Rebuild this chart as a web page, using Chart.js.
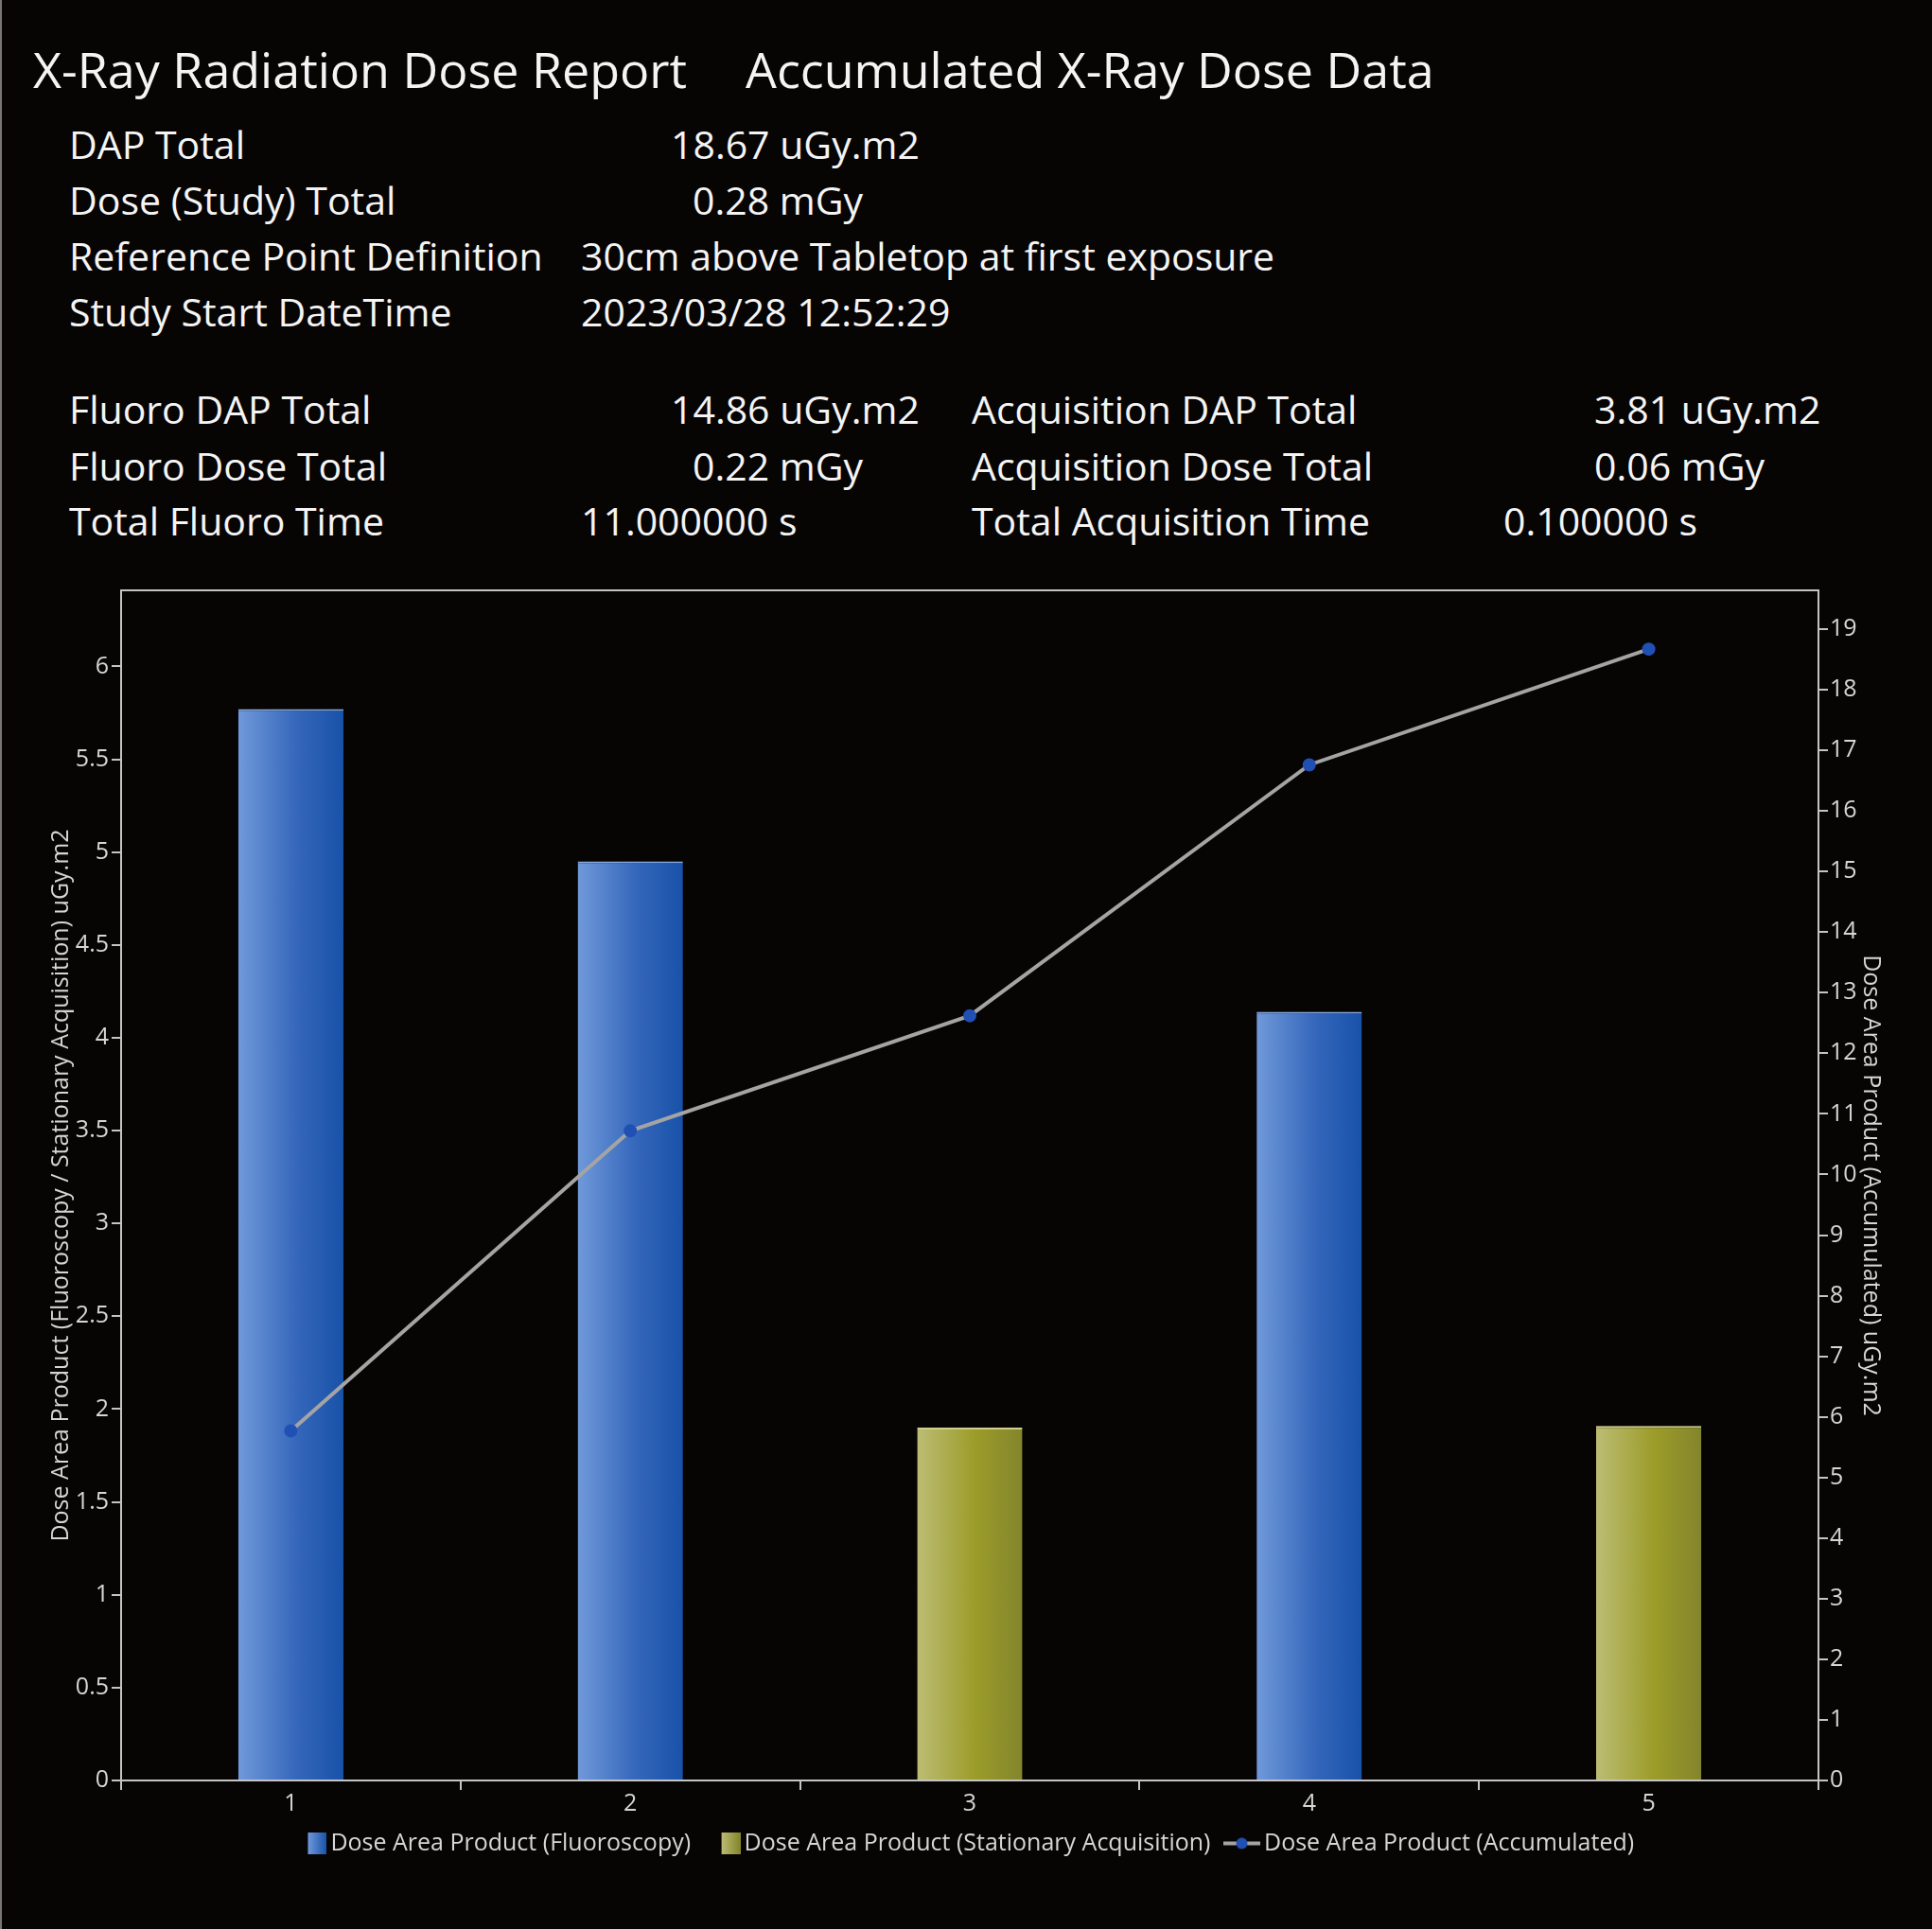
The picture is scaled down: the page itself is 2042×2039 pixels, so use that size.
<!DOCTYPE html>
<html>
<head>
<meta charset="utf-8">
<script src="https://cdn.jsdelivr.net/npm/chart.js@4.4.0/dist/chart.umd.min.js"></script>
<style>
    html, body { margin: 0; padding: 0; background: #070404; width: 2042px; height: 2039px; overflow: hidden; }
    body { box-shadow: inset 2px 0 0 #7a7676; }
    #head { position: absolute; left: 0; top: 0; }
    #wrap { position: absolute; left: 0; top: 600px; }
</style>
</head>
<body>
<svg id="head" width="2042" height="600" font-family="Open Sans" fill="#f4f4f4">
    <text x="35" y="93" font-size="52">X-Ray Radiation Dose Report</text>
    <text x="788" y="93" font-size="52">Accumulated X-Ray Dose Data</text>
    <g font-size="41">
        <text x="73" y="168">DAP Total</text>
        <text x="709" y="168">18.67 uGy.m2</text>
        <text x="73" y="227">Dose (Study) Total</text>
        <text x="732" y="227">0.28 mGy</text>
        <text x="73" y="286">Reference Point Definition</text>
        <text x="614" y="286">30cm above Tabletop at first exposure</text>
        <text x="73" y="345">Study Start DateTime</text>
        <text x="614" y="345">2023/03/28 12:52:29</text>

        <text x="73" y="448">Fluoro DAP Total</text>
        <text x="709" y="448">14.86 uGy.m2</text>
        <text x="1027" y="448">Acquisition DAP Total</text>
        <text x="1685" y="448">3.81 uGy.m2</text>
        <text x="73" y="508">Fluoro Dose Total</text>
        <text x="732" y="508">0.22 mGy</text>
        <text x="1027" y="508">Acquisition Dose Total</text>
        <text x="1685" y="508">0.06 mGy</text>
        <text x="73" y="566">Total Fluoro Time</text>
        <text x="614" y="566">11.000000 s</text>
        <text x="1027" y="566">Total Acquisition Time</text>
        <text x="1589" y="566">0.100000 s</text>
    </g>
</svg>
<div id="wrap"><canvas id="myChart" width="2042" height="1371"></canvas></div>
<script>
// data
const categories = ['1', '2', '3', '4', '5'];
const fluoroDap = [5.77, 4.95, null, 4.14, null];
const acquisitionDap = [null, null, 1.90, null, 1.91];
const accumulatedDap = [5.77, 10.72, 12.62, 16.76, 18.67];
const leftTicks = [0, 0.5, 1, 1.5, 2, 2.5, 3, 3.5, 4, 4.5, 5, 5.5, 6];
const rightTicks = [0, 1, 2, 3, 4, 5, 6, 7, 8, 9, 10, 11, 12, 13, 14, 15, 16, 17, 18, 19];

const FONT = 'Open Sans';
const axisColor = '#c4c4c4';
const labelColor = '#d6d6d6';
const barShare = 0.31;
const blueStops = ['#7099da', '#3567bb', '#1852a8'];
const oliveStops = ['#bcbd74', '#9c9c2a', '#83852c'];

// horizontal gradient across each bar
const barFill = (stops) => (ctx) => {
    const chart = ctx.chart;
    const area = chart.chartArea;
    if (!area || ctx.type !== 'data') return stops[1];
    const cx = chart.scales.x.getPixelForValue(ctx.dataIndex);
    const half = (area.right - area.left) / categories.length * barShare / 2;
    const g = chart.ctx.createLinearGradient(cx - half, 0, cx + half, 0);
    g.addColorStop(0, stops[0]);
    g.addColorStop(0.55, stops[1]);
    g.addColorStop(1, stops[2]);
    return g;
};

// legend markers (pointStyleWidth 22, images 39 wide centred on the box)
const swatch = (stops) => {
    const c = document.createElement('canvas');
    c.width = 39; c.height = 23;
    const g = c.getContext('2d');
    const gr = g.createLinearGradient(19, 0, 39, 0);
    gr.addColorStop(0, stops[0]);
    gr.addColorStop(1, stops[2]);
    g.fillStyle = gr;
    g.fillRect(19, 0, 20, 23);
    return c;
};
const lineMark = () => {
    const c = document.createElement('canvas');
    c.width = 39; c.height = 24;
    const g = c.getContext('2d');
    g.strokeStyle = '#a4a4a4';
    g.lineWidth = 4;
    g.beginPath(); g.moveTo(0, 12); g.lineTo(39, 12); g.stroke();
    g.fillStyle = '#2150b5';
    g.beginPath(); g.arc(19.5, 12, 6, 0, Math.PI * 2); g.fill();
    return c;
};
const legendMarks = [swatch(blueStops), swatch(oliveStops), lineMark()];

const tickFont = {family: FONT, size: 25};

const data = {
    labels: categories,
    datasets: [{
        type: 'bar',
        label: 'Dose Area Product (Fluoroscopy)',
        data: fluoroDap,
        yAxisID: 'y',
        backgroundColor: barFill(blueStops),
        borderColor: '#86aae4',
        borderWidth: {top: 2, left: 0, right: 0, bottom: 0},
        borderSkipped: false,
        order: 1
    }, {
        type: 'bar',
        label: 'Dose Area Product (Stationary Acquisition)',
        data: acquisitionDap,
        yAxisID: 'y',
        backgroundColor: barFill(oliveStops),
        borderColor: '#cfd08c',
        borderWidth: {top: 2, left: 0, right: 0, bottom: 0},
        borderSkipped: false,
        order: 1
    }, {
        type: 'line',
        label: 'Dose Area Product (Accumulated)',
        data: accumulatedDap,
        yAxisID: 'y1',
        borderColor: '#a4a4a4',
        borderWidth: 4,
        tension: 0,
        pointRadius: 7,
        pointBackgroundColor: '#2150b5',
        pointBorderWidth: 0,
        order: 0
    }]
};

const config = {
    type: 'bar',
    data,
    options: {
        responsive: false,
        animation: false,
        layout: {padding: {top: 24, left: 0, right: 0, bottom: 0}},
        datasets: {bar: {barPercentage: barShare, categoryPercentage: 1, skipNull: true}},
        plugins: {
            tooltip: {enabled: false},
            legend: {
                position: 'bottom',
                labels: {
                    usePointStyle: true,
                    pointStyleWidth: 22,
                    boxHeight: 24,
                    padding: 22,
                    color: labelColor,
                    font: {family: FONT, size: 25},
                    generateLabels: (chart) => chart.data.datasets.map((ds, i) => ({
                        text: ds.label,
                        datasetIndex: i,
                        pointStyle: legendMarks[i],
                        fontColor: labelColor,
                        hidden: false,
                        lineWidth: 0
                    }))
                }
            }
        },
        scales: {
            x: {
                type: 'category',
                offset: true,
                grid: {drawOnChartArea: false, drawTicks: true, tickLength: 10, color: axisColor, lineWidth: 2},
                border: {display: true, color: axisColor, width: 2},
                ticks: {color: labelColor, font: tickFont, padding: 0},
                afterFit: (s) => { s.height = 32; }
            },
            xTop: {
                type: 'category',
                position: 'top',
                grid: {display: false},
                ticks: {display: false},
                border: {display: true, color: axisColor, width: 2},
                afterFit: (s) => { s.height = 0; }
            },
            y: {
                type: 'linear',
                position: 'left',
                min: 0,
                max: 6.41,
                afterBuildTicks: (s) => { s.ticks = leftTicks.map(v => ({value: v})); },
                grid: {drawOnChartArea: false, tickLength: 10, color: axisColor, lineWidth: 2},
                border: {display: true, color: axisColor, width: 2},
                ticks: {color: labelColor, font: tickFont, padding: 3, callback: (v) => String(v)},
                title: {
                    display: true,
                    text: 'Dose Area Product (Fluoroscopy / Stationary Acquisition) uGy.m2',
                    color: labelColor,
                    font: {family: FONT, size: 25},
                    padding: {top: 50, bottom: 0}
                },
                afterFit: (s) => { s.width = 128; }
            },
            y1: {
                type: 'linear',
                position: 'right',
                min: 0,
                max: 19.64,
                afterBuildTicks: (s) => { s.ticks = rightTicks.map(v => ({value: v})); },
                grid: {drawOnChartArea: false, tickLength: 10, color: axisColor, lineWidth: 2},
                border: {display: true, color: axisColor, width: 2},
                ticks: {color: labelColor, font: tickFont, padding: 2, callback: (v) => String(v)},
                title: {
                    display: true,
                    text: 'Dose Area Product (Accumulated) uGy.m2',
                    color: labelColor,
                    font: {family: FONT, size: 25},
                    padding: {top: 50, bottom: 0}
                },
                afterFit: (s) => { s.width = 120; }
            }
        }
    }
};

let myChart = new Chart('myChart', config);
</script>
</body>
</html>
